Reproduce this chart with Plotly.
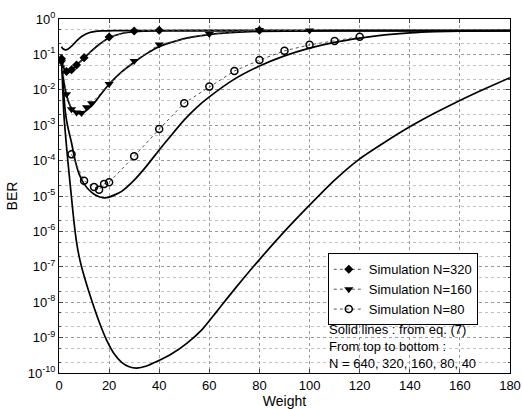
import plotly.graph_objects as go

# ---------------- data ----------------
# theory curves (solid lines, eq. (7))
w640 = [1, 1.5, 2.5, 3.5, 5, 6.5, 8, 10, 12, 14, 17, 22, 40, 100, 180]
ber640 = [0.165, 0.145, 0.135, 0.14, 0.17, 0.22, 0.28, 0.355, 0.41, 0.44, 0.46, 0.47, 0.47, 0.47, 0.47]

w320 = [1, 1.5, 2.5, 3.5, 5, 7, 10, 13, 16, 20, 25, 30, 40, 60, 180]
ber320 = [0.079, 0.05, 0.035, 0.032, 0.036, 0.05, 0.079, 0.126, 0.19, 0.295, 0.39, 0.436, 0.465, 0.47, 0.47]

w160 = [1, 1.5, 2, 3, 4, 5, 6.5, 8, 9.5, 11.5, 14, 17, 20, 25, 30, 35, 40, 50, 60, 70, 80, 100, 120, 180]
ber160 = [0.071, 0.028, 0.016, 0.0071, 0.0042, 0.003, 0.0024, 0.00214, 0.00224, 0.0028, 0.0042,
          0.0079, 0.0145, 0.032, 0.06, 0.105, 0.166, 0.28, 0.363, 0.417, 0.447, 0.462, 0.47, 0.47]

w80 = [1, 1.5, 2, 2.5, 3, 4, 5, 6, 7, 8, 10, 13, 16, 18, 20, 25, 30, 35, 40, 45, 50, 55, 60, 70,
       80, 90, 100, 110, 120, 130, 140, 150, 160, 180]
ber80 = [8.9e-2, 2.2e-2, 6.3e-3, 2.5e-3, 1.4e-3, 6.3e-4, 3.2e-4, 1.4e-4, 7.1e-5, 4.2e-5, 2.2e-5,
         1.26e-5, 9.5e-6, 8.9e-6, 9.3e-6, 1.35e-5, 2.8e-5, 7.1e-5, 2.0e-4, 5.4e-4, 1.41e-3,
         3.2e-3, 6.3e-3, 2.0e-2, 4.7e-2, 9.1e-2, 0.151, 0.219, 0.288, 0.355, 0.407, 0.44, 0.457, 0.468]

w40 = [1, 1.5, 2, 3, 4, 5, 6, 7, 8, 9, 11, 13, 16, 19, 22, 25, 28, 31, 35, 39, 45, 51, 57, 63, 70,
       80, 90, 100, 110, 120, 130, 140, 150, 160, 170, 180]
ber40 = [1.0e-1, 1.0e-2, 1.8e-3, 2.5e-4, 4.5e-5, 8.9e-6, 1.8e-6, 5.0e-7, 2.0e-7, 1.0e-7, 3.2e-8,
         1.15e-8, 2.8e-9, 8.5e-10, 3.5e-10, 2.0e-10, 1.5e-10, 1.38e-10, 1.58e-10, 2.1e-10,
         3.5e-10, 6.9e-10, 1.65e-9, 5.5e-9, 2.3e-8, 1.6e-7, 1.0e-6, 5.5e-6, 2.8e-5, 1.12e-4,
         3.3e-4, 9.0e-4, 2.2e-3, 5.0e-3, 1.07e-2, 2.2e-2]

# simulation points
sw320 = [1, 3, 5, 7, 10, 20, 30, 40, 80]
sb320 = [0.075, 0.033, 0.037, 0.05, 0.081, 0.31, 0.46, 0.48, 0.48]

sw160 = [1, 3, 5, 7, 9, 11, 13, 20, 30, 40, 60, 80, 100]
sb160 = [0.06, 0.0075, 0.0028, 0.0023, 0.0022, 0.0032, 0.0042, 0.0145, 0.065, 0.19, 0.38, 0.49, 0.47]

sw80 = [5, 10, 14, 16, 18, 20, 30, 40, 50, 60, 70, 80, 90, 100, 110, 120]
sb80 = [1.5e-4, 2.7e-5, 1.8e-5, 1.5e-5, 2.2e-5, 2.45e-5, 1.32e-4, 7.8e-4, 4.2e-3, 1.23e-2,
        3.4e-2, 6.9e-2, 0.126, 0.186, 0.24, 0.316]

ytick_vals = [10.0 ** k for k in range(-10, 1)]
ytick_text = ["10<sup>%d</sup>" % k for k in range(-10, 1)]
xtick_vals = list(range(0, 181, 20))

note_lines = ["Solid lines : from eq. (7)", "From top to bottom :", "N = 640, 320, 160, 80, 40"]

# ---------------- figure ----------------
fig = go.Figure()

for w, b in [(w640, ber640), (w320, ber320), (w160, ber160), (w80, ber80), (w40, ber40)]:
    fig.add_trace(go.Scatter(x=w, y=b, mode="lines", showlegend=False,
                             line=dict(color="black", width=1.7, shape="spline", smoothing=0.6),
                             hoverinfo="skip"))

fig.add_trace(go.Scatter(x=sw320, y=sb320, mode="lines+markers", name="Simulation N=320",
                         line=dict(color="#555", width=1, dash="dot"),
                         marker=dict(symbol="diamond", size=7, color="black")))
fig.add_trace(go.Scatter(x=sw160, y=sb160, mode="lines+markers", name="Simulation N=160",
                         line=dict(color="#555", width=1, dash="dot"),
                         marker=dict(symbol="triangle-down", size=8, color="black")))
fig.add_trace(go.Scatter(x=sw80, y=sb80, mode="lines+markers", name="Simulation N=80",
                         line=dict(color="#555", width=1, dash="dot"),
                         marker=dict(symbol="circle-open", size=7, color="black",
                                     line=dict(width=1.5, color="black"))))

grid_col = "#9a9a9a"
fig.update_xaxes(range=[0, 180], tickvals=xtick_vals, ticks="inside", ticklen=4,
                 showline=True, linecolor="black", linewidth=1, mirror="allticks",
                 showgrid=True, gridcolor=grid_col, griddash="dot", gridwidth=1,
                 zeroline=False, automargin=False, tickfont=dict(size=13),
                 title=dict(text="Weight", standoff=1, font=dict(size=14)))
fig.update_yaxes(type="log", range=[-10, 0], tickvals=ytick_vals, ticktext=ytick_text,
                 ticks="inside", ticklen=4,
                 showline=True, linecolor="black", linewidth=1, mirror="allticks",
                 showgrid=True, gridcolor=grid_col, griddash="dot", gridwidth=1,
                 minor=dict(ticks="inside", ticklen=2, showgrid=True, gridcolor="#c0c0c0",
                            griddash="dot", gridwidth=1),
                 zeroline=False, automargin=False, tickfont=dict(size=13),
                 title=dict(text="BER", standoff=6, font=dict(size=14)))

fig.update_layout(
    width=522, height=409,
    margin=dict(l=59, r=12, t=19, b=36),
    plot_bgcolor="white", paper_bgcolor="white",
    font=dict(family="Liberation Sans, Arial, sans-serif", size=14, color="black"),
    legend=dict(x=0.596, y=0.338, xanchor="left", yanchor="top",
                bgcolor="white", bordercolor="black", borderwidth=1,
                font=dict(size=13), tracegroupgap=0, itemwidth=30),
)

fig.add_annotation(text="<br>".join(note_lines), x=0.596, y=0.074, xref="paper", yref="paper",
                   xanchor="left", yanchor="middle", showarrow=False, borderpad=0,
                   font=dict(size=13, color="black"), align="left")

fig.write_html("out.html")
